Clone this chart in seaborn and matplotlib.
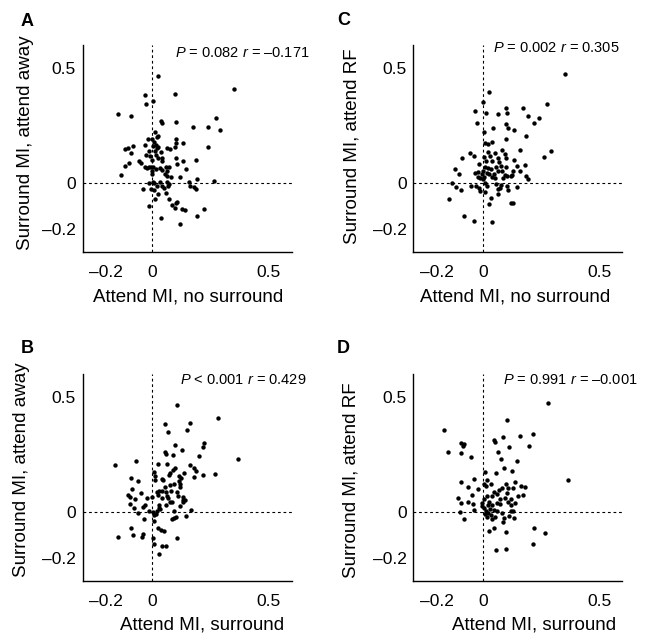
import matplotlib
matplotlib.use("Agg")
import matplotlib.pyplot as plt
import seaborn as sns
import pandas as pd

# --- Panel A: attend MI (no surround) vs surround MI (attend away)
a_x = [0.023, 0.353, -0.033, 0.099, -0.029, 0.003, -0.149, -0.091, 0.037, 0.040,
       0.100, 0.174, 0.239, 0.276, 0.290, 0.011, 0.023, -0.019, -0.001, 0.021,
       0.009, -0.033, 0.004, 0.016, 0.026, 0.100, 0.103, 0.134, 0.099, 0.064,
       0.074, 0.239, 0.019, -0.116, -0.106, -0.084, -0.090, -0.013, 0.011, 0.037,
       -0.027, -0.009, 0.014, 0.023, 0.040, -0.057, -0.051, -0.003, 0.040, 0.101,
       0.133, 0.186, -0.120, -0.099, -0.033, -0.024, -0.016, -0.004, 0.003, 0.014,
       0.034, 0.041, 0.059, 0.070, 0.106, 0.063, 0.146, -0.133, 0.000, 0.000,
       0.056, 0.064, 0.081, 0.120, 0.193, 0.264, -0.016, 0.001, 0.009, 0.034,
       0.064, 0.071, 0.156, 0.164, 0.181, 0.186, 0.066, -0.040, -0.006, 0.006,
       0.020, 0.041, 0.049, 0.060, 0.026, 0.010, 0.073, 0.106, 0.100, 0.086,
       -0.013, 0.099, 0.126, 0.141, 0.221, 0.037, 0.193, 0.119]
a_y = [0.465, 0.410, 0.385, 0.388, 0.346, 0.355, 0.300, 0.291, 0.270, 0.260,
       0.266, 0.242, 0.244, 0.281, 0.229, 0.224, 0.205, 0.192, 0.192, 0.202,
       0.180, 0.165, 0.162, 0.166, 0.159, 0.190, 0.173, 0.175, 0.156, 0.152,
       0.147, 0.156, 0.152, 0.147, 0.152, 0.162, 0.133, 0.141, 0.141, 0.136,
       0.123, 0.120, 0.123, 0.108, 0.108, 0.098, 0.089, 0.101, 0.098, 0.110,
       0.098, 0.101, 0.076, 0.087, 0.069, 0.066, 0.069, 0.072, 0.072, 0.063,
       0.068, 0.056, 0.072, 0.071, 0.082, 0.053, 0.063, 0.036, 0.053, 0.040,
       0.039, 0.032, 0.029, 0.029, 0.020, 0.010, -0.001, 0.004, -0.001, 0.004,
       0.004, -0.003, 0.006, -0.010, -0.016, -0.025, -0.014, -0.025, -0.025, -0.029,
       -0.014, -0.010, -0.020, -0.043, -0.048, -0.068, -0.069, -0.081, -0.087, -0.095,
       -0.097, -0.108, -0.113, -0.118, -0.110, -0.149, -0.141, -0.177]

# --- Panel B: attend MI (surround) vs surround MI (attend away)
b_x = [0.106, 0.281, 0.053, 0.164, 0.067, 0.147, 0.097, 0.056, 0.059, 0.091,
       0.129, 0.223, 0.220, 0.201, -0.161, -0.071, 0.026, 0.061, 0.097, 0.089,
       0.164, 0.181, 0.187, 0.137, 0.113, 0.124, 0.076, 0.071, 0.179, 0.217,
       0.270, 0.370, 0.009, 0.010, 0.041, 0.046, 0.011, -0.093, -0.061, -0.089,
       -0.104, -0.097, -0.076, -0.050, -0.021, -0.001, 0.019, 0.027, 0.043, 0.060,
       0.053, 0.079, 0.074, 0.094, 0.116, 0.119, 0.121, 0.130, 0.134, 0.111,
       0.107, 0.064, 0.067, 0.043, 0.024, 0.133, 0.140, -0.096, -0.080, -0.060,
       -0.039, -0.031, -0.016, 0.004, 0.009, 0.027, 0.033, 0.030, 0.059, 0.076,
       0.084, 0.093, 0.119, 0.166, -0.036, 0.006, 0.086, 0.094, 0.103, 0.143,
       0.021, 0.017, -0.090, -0.083, -0.146, -0.043, -0.040, 0.024, 0.036, 0.049,
       0.104, 0.004, 0.007, 0.040, 0.060, 0.029]
b_y = [0.463, 0.408, 0.382, 0.387, 0.345, 0.356, 0.291, 0.260, 0.253, 0.245,
       0.267, 0.299, 0.281, 0.244, 0.202, 0.221, 0.206, 0.209, 0.190, 0.183,
       0.205, 0.192, 0.179, 0.169, 0.156, 0.146, 0.169, 0.159, 0.153, 0.162,
       0.163, 0.228, 0.173, 0.156, 0.144, 0.139, 0.137, 0.146, 0.133, 0.098,
       0.075, 0.066, 0.058, 0.082, 0.062, 0.066, 0.085, 0.091, 0.092, 0.087,
       0.110, 0.092, 0.115, 0.121, 0.136, 0.120, 0.108, 0.053, 0.043, 0.069,
       0.087, 0.069, 0.061, 0.061, 0.075, 0.065, 0.052, 0.035, 0.019, -0.003,
       0.023, 0.029, 0.004, -0.001, -0.012, 0.017, 0.013, 0.029, 0.032, 0.043,
       0.042, 0.004, 0.025, 0.010, -0.029, -0.038, -0.029, -0.025, -0.022, -0.016,
       0.006, -0.009, -0.068, -0.101, -0.111, -0.108, -0.097, -0.068, -0.079, -0.081,
       -0.113, -0.114, -0.140, -0.146, -0.149, -0.182]

# --- Panel C: attend MI (no surround) vs surround MI (attend RF)
c_x = [0.354, 0.026, 0.001, 0.277, -0.033, 0.011, 0.100, 0.101, 0.066, 0.174,
       0.194, 0.240, 0.221, -0.027, 0.043, 0.004, 0.097, 0.109, 0.134, 0.100,
       0.186, 0.009, 0.020, 0.040, 0.020, 0.050, 0.083, 0.093, 0.157, 0.291,
       0.264, -0.056, -0.089, -0.039, 0.004, 0.031, 0.066, 0.100, 0.037, 0.070,
       0.133, 0.011, -0.120, -0.103, -0.017, 0.009, 0.020, 0.033, 0.057, 0.079,
       0.100, 0.146, 0.181, -0.033, -0.020, -0.006, 0.001, 0.016, 0.027, 0.046,
       0.064, 0.083, 0.093, 0.120, 0.131, 0.161, 0.184, 0.193, -0.023, -0.014,
       -0.001, 0.006, 0.037, 0.051, 0.084, 0.101, 0.126, -0.133, -0.116, -0.097,
       -0.051, -0.029, -0.016, 0.009, 0.017, 0.057, 0.063, 0.071, 0.103, 0.146,
       0.106, 0.077, 0.066, 0.034, 0.026, 0.120, 0.127, -0.147, -0.083, -0.039,
       0.037, 0.007, -0.013]
c_y = [0.476, 0.397, 0.352, 0.342, 0.312, 0.303, 0.328, 0.306, 0.300, 0.325,
       0.290, 0.283, 0.261, 0.261, 0.240, 0.224, 0.255, 0.238, 0.229, 0.190,
       0.203, 0.175, 0.172, 0.180, 0.137, 0.131, 0.143, 0.128, 0.143, 0.140,
       0.114, 0.133, 0.110, 0.120, 0.113, 0.118, 0.108, 0.108, 0.098, 0.094,
       0.101, 0.097, 0.063, 0.040, 0.084, 0.072, 0.065, 0.062, 0.072, 0.075,
       0.072, 0.074, 0.078, 0.043, 0.049, 0.042, 0.051, 0.043, 0.038, 0.040,
       0.055, 0.051, 0.036, 0.033, 0.053, 0.051, 0.032, 0.017, 0.029, 0.023,
       0.017, 0.025, 0.026, 0.022, 0.022, 0.033, 0.035, 0.000, -0.017, -0.030,
       -0.010, -0.012, -0.023, -0.001, -0.010, -0.003, -0.025, -0.019, -0.010, -0.017,
       -0.029, -0.007, -0.046, -0.066, -0.091, -0.085, -0.087, -0.069, -0.141, -0.163,
       -0.169, -0.038, -0.032]

# --- Panel D: attend MI (surround) vs surround MI (attend RF)
d_x = [0.279, 0.101, -0.167, -0.097, -0.080, -0.086, -0.149, -0.096, -0.054, 0.049,
       0.053, 0.086, 0.161, 0.214, 0.197, 0.110, 0.063, 0.076, 0.091, 0.057,
       0.126, 0.144, 0.366, 0.007, 0.019, 0.034, 0.003, 0.014, -0.093, -0.037,
       -0.064, -0.020, -0.110, -0.094, -0.063, -0.047, -0.043, -0.039, -0.100, -0.081,
       0.046, 0.069, 0.059, 0.080, 0.099, 0.109, 0.101, 0.127, 0.136, 0.163,
       0.179, 0.174, 0.151, 0.137, 0.120, 0.121, 0.106, 0.096, 0.071, 0.060,
       0.040, 0.016, 0.006, -0.004, -0.003, 0.006, 0.014, 0.009, 0.027, 0.023,
       0.039, 0.046, 0.061, 0.074, 0.029, 0.021, 0.034, 0.017, 0.050, 0.039,
       0.083, 0.091, 0.086, 0.119, 0.130, 0.134, 0.111, 0.026, 0.046, 0.100,
       0.219, 0.267, 0.214, 0.056, 0.097]
d_y = [0.473, 0.397, 0.354, 0.299, 0.293, 0.284, 0.258, 0.254, 0.238, 0.310,
       0.304, 0.325, 0.328, 0.339, 0.284, 0.283, 0.260, 0.229, 0.190, 0.170,
       0.177, 0.221, 0.137, 0.173, 0.137, 0.123, 0.120, 0.114, 0.131, 0.141,
       0.107, 0.098, 0.061, 0.038, 0.043, 0.074, 0.033, 0.007, 0.000, -0.032,
       0.087, 0.097, 0.076, 0.105, 0.121, 0.104, 0.081, 0.104, 0.131, 0.113,
       0.108, 0.072, 0.071, 0.039, 0.055, 0.032, 0.042, 0.062, 0.056, 0.040,
       0.068, 0.068, 0.058, 0.039, 0.026, 0.019, 0.004, -0.010, 0.043, 0.032,
       0.032, 0.007, 0.006, 0.036, 0.014, -0.003, -0.014, -0.022, -0.023, -0.029,
       -0.006, -0.027, -0.043, 0.006, 0.006, -0.026, -0.019, -0.084, -0.071, -0.087,
       -0.069, -0.091, -0.141, -0.166, -0.160]

tick_values = [-0.2, 0, 0.5]
tick_labels = ["\u20130.2", "0", "0.5"]

sns.set_style("white")
plt.rcParams["font.family"] = ["Liberation Sans", "DejaVu Sans"]
plt.rcParams["mathtext.fontset"] = "custom"
plt.rcParams["mathtext.rm"] = "Liberation Sans"
plt.rcParams["mathtext.it"] = "Liberation Sans:italic"
plt.rcParams["text.color"] = "black"
plt.rcParams["axes.labelcolor"] = "black"
plt.rcParams["xtick.color"] = "black"
plt.rcParams["ytick.color"] = "black"

fig = plt.figure(figsize=(6.51, 6.38), dpi=100)

W, H = 651.0, 638.0
ax_w, ax_h = 209.0, 207.3

panels = [
    dict(letter="A", x=a_x, y=a_y, xlabel="Attend MI, no surround",
         ylabel="Surround MI, attend away",
         stats="$\\it{P}$ = 0.082 $\\it{r}$ = \u20130.171",
         left=82.7, top=45.0, stats_pos=(175, 56.7), ylab_pos=(26, 143),
         xlab_pos=(188.5, 301), letter_pos=(21, 26)),
    dict(letter="C", x=c_x, y=c_y, xlabel="Attend MI, no surround",
         ylabel="Surround MI, attend RF",
         stats="$\\it{P}$ = 0.002 $\\it{r}$ = 0.305",
         left=413.4, top=45.0, stats_pos=(493.3, 52.3), ylab_pos=(352, 146.5),
         xlab_pos=(515, 301), letter_pos=(337, 25)),
    dict(letter="B", x=b_x, y=b_y, xlabel="Attend MI, surround",
         ylabel="Surround MI, attend away",
         stats="$\\it{P}$ < 0.001 $\\it{r}$ = 0.429",
         left=82.7, top=373.7, stats_pos=(180, 383.7), ylab_pos=(22, 470),
         xlab_pos=(202, 630), letter_pos=(21, 353)),
    dict(letter="D", x=d_x, y=d_y, xlabel="Attend MI, surround",
         ylabel="Surround MI, attend RF",
         stats="$\\it{P}$ = 0.991 $\\it{r}$ = \u20130.001",
         left=413.4, top=373.7, stats_pos=(503.3, 384.5), ylab_pos=(350.5, 480.5),
         xlab_pos=(534, 630), letter_pos=(337, 353)),
]


def fx(px):
    return px / W


def fy(py):
    return 1.0 - py / H


for p in panels:
    ax = fig.add_axes([fx(p["left"]), fy(p["top"] + ax_h), ax_w / W, ax_h / H])
    df = pd.DataFrame({"x": p["x"], "y": p["y"]})
    ax.axhline(0, color="black", lw=0.8, ls=(0, (2.5, 2.5)), zorder=1)
    ax.axvline(0, color="black", lw=0.8, ls=(0, (2.5, 2.5)), zorder=1)
    sns.scatterplot(data=df, x="x", y="y", ax=ax, color="black", s=10,
                    linewidth=0, zorder=3)
    ax.set_xlim(-0.3, 0.6)
    ax.set_ylim(-0.3, 0.6)
    ax.set_xticks(tick_values)
    ax.set_xticklabels(tick_labels)
    ax.set_yticks(tick_values)
    ax.set_yticklabels(tick_labels)
    ax.set_xlabel("")
    ax.set_ylabel("")
    for side in ("top", "right"):
        ax.spines[side].set_visible(False)
    for side in ("left", "bottom"):
        ax.spines[side].set_color("black")
        ax.spines[side].set_linewidth(1.0)
    ax.tick_params(axis="both", direction="in", length=3, width=0.8,
                   labelsize=12.5, colors="black", labelcolor="black")
    ax.tick_params(axis="x", pad=9)
    ax.tick_params(axis="y", pad=4.8)

    fig.text(fx(p["stats_pos"][0]), fy(p["stats_pos"][1]), p["stats"],
             fontsize=10.5, ha="left", va="baseline")
    fig.text(fx(p["ylab_pos"][0]), fy(p["ylab_pos"][1]), p["ylabel"],
             fontsize=13.5, rotation=90, ha="center", va="center")
    fig.text(fx(p["xlab_pos"][0]), fy(p["xlab_pos"][1]), p["xlabel"],
             fontsize=13.5, ha="center", va="baseline")
    fig.text(fx(p["letter_pos"][0]), fy(p["letter_pos"][1]), p["letter"],
             fontsize=13, fontweight="bold", ha="left", va="baseline")

fig.savefig("out.png", dpi=100, facecolor="white")
